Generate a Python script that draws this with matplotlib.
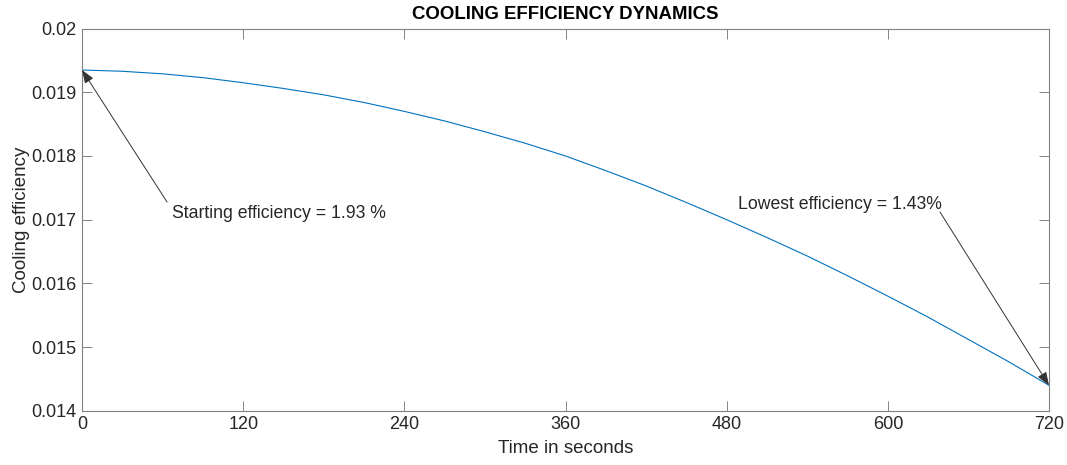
import matplotlib.pyplot as plt
from matplotlib.ticker import FuncFormatter

plt.rcParams['font.family'] = ['Liberation Sans', 'DejaVu Sans']

# cooling efficiency, every 30 s
time_s = [0, 30, 60, 90, 120, 150, 180, 210, 240, 270, 300, 330, 360,
          390, 420, 450, 480, 510, 540, 570, 600, 630, 660, 690, 720]
efficiency = [0.01935, 0.01933, 0.01929, 0.01923, 0.01915, 0.01906, 0.01896,
              0.01884, 0.01870, 0.01855, 0.01838, 0.01820, 0.01800, 0.01777,
              0.01753, 0.01727, 0.01700, 0.01672, 0.01643, 0.01612, 0.01580,
              0.01547, 0.01512, 0.01477, 0.01440]
x_ticks = [0, 120, 240, 360, 480, 600, 720]
y_ticks = [0.014, 0.015, 0.016, 0.017, 0.018, 0.019, 0.02]

axcol = '#262626'
fig = plt.figure(figsize=(10.67, 4.65), dpi=100)
ax = fig.add_axes([0.0769, 0.1166, 0.9062, 0.8219])

ax.plot(time_s, efficiency, color='#0072BD', lw=0.8)

ax.set_xlim(0, 720)
ax.set_ylim(0.014, 0.02)
ax.set_xticks(x_ticks)
ax.set_yticks(y_ticks)
ax.yaxis.set_major_formatter(FuncFormatter(lambda v, p: '%g' % round(v, 4)))
ax.tick_params(direction='in', length=7, width=0.6, color='#707070',
               labelcolor=axcol, labelsize=13, top=True, right=True, pad=4)
for s in ax.spines.values():
    s.set_color('#808080')
    s.set_linewidth(0.8)

ax.set_title('COOLING EFFICIENCY DYNAMICS', fontsize=13.4, fontweight='bold', pad=7)
ax.set_xlabel('Time in seconds', fontsize=13.5, color=axcol, labelpad=5)
ax.set_ylabel('Cooling efficiency', fontsize=13.5, color=axcol, labelpad=1)

arrow = dict(arrowstyle='-|>,head_length=0.8,head_width=0.3', color='#333333',
             lw=0.7, shrinkA=0, shrinkB=0)
ax.text(0.0931, 0.5175, 'Starting efficiency = 1.93 %', transform=ax.transAxes,
        fontsize=12.7, color=axcol, va='center', ha='left')
ax.annotate('', xy=(time_s[0], efficiency[0]), xycoords='data',
            xytext=(0.0879, 0.5463), textcoords='axes fraction', arrowprops=arrow)
ax.text(0.6784, 0.5385, 'Lowest efficiency = 1.43%', transform=ax.transAxes,
        fontsize=12.7, color=axcol, va='center', ha='left')
ax.annotate('', xy=(time_s[-1], efficiency[-1]), xycoords='data',
            xytext=(0.8873, 0.5201), textcoords='axes fraction', arrowprops=arrow)

fig.savefig('out.png', dpi=100)
